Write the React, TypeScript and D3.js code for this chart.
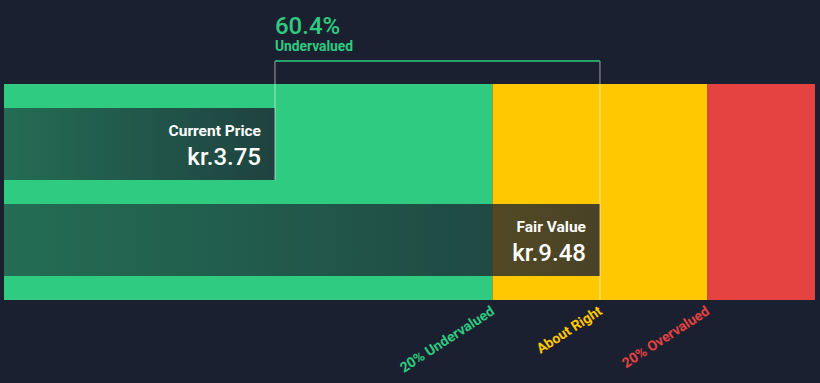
import React from "react";
import * as d3 from "d3";

const currentPrice = 3.75;
const fairValue = 9.48;
const currency = "kr.";
const bandNames = ["20% Undervalued", "About Right", "20% Overvalued"];
const bandRatios = [0.8, 1.2, 1.4];
const labelRatios = [0.8, 1.0, 1.2];
const bandColors = ["#2ecb80", "#ffc800", "#e54242"];
const barNames = ["Current Price", "Fair Value"];
const barValues = [currentPrice, fairValue];

const W = 820;
const H = 383;
const BG = "#1b2030";
const FONT = "Roboto, 'Open Sans', sans-serif";

export default function App() {
  const left = 4;
  const right = 815;
  const x = d3.scaleLinear().domain([0, fairValue * bandRatios[2]]).range([62.3, right]);
  const bandTop = 84;
  const bandBottom = 300;
  const y = d3.scaleBand<string>().domain(barNames).range([108, 276]).paddingInner(0.25).paddingOuter(0);
  const bandEdges = [left, ...bandRatios.map((r) => x(fairValue * r))];
  const diff = (fairValue - currentPrice) / fairValue;
  const xc = x(currentPrice);
  const xf = x(fairValue);
  const bracketY = 61;

  return (
    <svg width={W} height={H} style={{ position: "absolute", left: 0, top: 0, display: "block" }} fontFamily={FONT}>
      <rect x={0} y={0} width={W} height={H} fill={BG} />
      {bandNames.map((n, i) => (
        <rect key={n} x={bandEdges[i]} y={bandTop} width={bandEdges[i + 1] - bandEdges[i]} height={bandBottom - bandTop} fill={bandColors[i]} />
      ))}
      {barNames.map((n, i) => {
        const xe = x(barValues[i]);
        const yy = y(n)!;
        const grad = `barGrad${i}`;
        return (
          <g key={n}>
            <defs>
              <linearGradient id={grad} gradientUnits="userSpaceOnUse" x1={left} x2={xe} y1={0} y2={0}>
                <stop offset="0" stopColor={BG} stopOpacity={0.55} />
                <stop offset="1" stopColor={BG} stopOpacity={0.8} />
              </linearGradient>
            </defs>
            <rect x={left} y={yy} width={xe - left} height={y.bandwidth()} fill={`url(#${grad})`} />
            <text x={xe - 14} y={yy + 27.5} textAnchor="end" fill="#ffffff" fontSize={15.5} fontWeight={700}>{n}</text>
            <text x={xe - 14} y={yy + 57} textAnchor="end" fill="#ffffff" fontSize={24} fontWeight={500}>{currency}{barValues[i].toFixed(2)}</text>
          </g>
        );
      })}
      <line x1={xc} x2={xc} y1={bracketY} y2={y(barNames[0])! + y.bandwidth()} stroke="#ffffff" strokeOpacity={0.45} strokeWidth={1.3} />
      <line x1={xf} x2={xf} y1={bracketY} y2={bandBottom} stroke="#ffffff" strokeOpacity={0.45} strokeWidth={1.3} />
      <line x1={xc} x2={xf} y1={bracketY} y2={bracketY} stroke={bandColors[0]} strokeWidth={1.5} />
      <text x={xc} y={33.5} fill={bandColors[0]} fontSize={24} fontWeight={500}>{(diff * 100).toFixed(1)}%</text>
      <text x={xc} y={50.5} fill={bandColors[0]} fontSize={13.8} fontWeight={700}>Undervalued</text>
      {bandNames.map((n, i) => (
        <text key={n} transform={`translate(${x(fairValue * labelRatios[i]) + 3},${313.5}) rotate(-33)`} textAnchor="end" fill={bandColors[i]} fontSize={14} fontWeight={700}>{n}</text>
      ))}
    </svg>
  );
}
